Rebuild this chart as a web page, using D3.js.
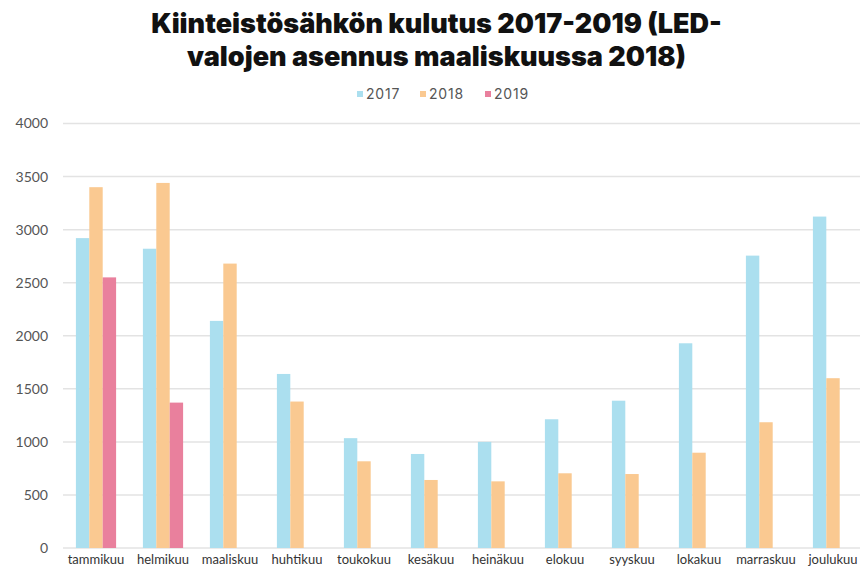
<!DOCTYPE html>
<html><head><meta charset="utf-8">
<script src="https://cdn.jsdelivr.net/npm/d3@7"></script>
<style>body{margin:0;background:#fff}</style>
</head><body>
<svg id="c" width="860" height="571"></svg>
<script>
const months = ["tammikuu","helmikuu","maaliskuu","huhtikuu","toukokuu","kesäkuu","heinäkuu","elokuu","syyskuu","lokakuu","marraskuu","joulukuu"];
const years = ["2017","2018","2019"];
const v2017 = [2920,2820,2140,1640,1035,886,1000,1213,1388,1929,2755,3123];
const v2018 = [3400,3440,2680,1380,817,641,628,704,697,898,1185,1600];
const v2019 = [2550,1370,null,null,null,null,null,null,null,null,null,null];
const yTicks = [0,500,1000,1500,2000,2500,3000,3500,4000];
const colors = ["#abdfef","#fac991","#e9809d"];
const series = [v2017,v2018,v2019];
const titleLines = ["Kiinteistösähkön kulutus 2017-2019 (LED-","valojen asennus maaliskuussa 2018)"];

const svg = d3.select("#c");
const x = d3.scaleBand().domain(months).range([62.5,866.5]).paddingInner(0.4).paddingOuter(0.2);
const xs = d3.scaleBand().domain(years).range([0,x.bandwidth()]);
const y = d3.scaleLinear().domain([0,4000]).range([548,123.5]);

// gridlines
svg.append("g").selectAll("line").data(yTicks).join("line")
  .attr("x1",63).attr("x2",860).attr("y1",d=>y(d)).attr("y2",d=>y(d))
  .attr("stroke","#e3e3e3").attr("stroke-width",1.5);

// y axis labels
const ya = svg.append("g").attr("transform","translate(48,0)")
  .call(d3.axisLeft(y).tickValues(yTicks).tickFormat(d3.format("d")).tickSize(0).tickPadding(0));
ya.select(".domain").remove();
ya.selectAll("text").attr("font-family","Lato, sans-serif").attr("font-size",14).attr("fill","#555");

// bars
series.forEach((s,i)=>{
  svg.append("g").selectAll("rect").data(months.map((m,j)=>({m,v:s[j]})).filter(d=>d.v!=null)).join("rect")
    .attr("x",d=>x(d.m)+xs(years[i])).attr("width",xs.bandwidth())
    .attr("y",d=>y(d.v)).attr("height",d=>y(0)-y(d.v)).attr("fill",colors[i]);
});

// x axis labels
const xa = svg.append("g").attr("transform","translate(0,553)")
  .call(d3.axisBottom(x).tickSize(0).tickPadding(0));
xa.select(".domain").remove();
xa.selectAll("text").attr("dy","0.85em").attr("font-family","Lato, sans-serif").attr("font-size",13).attr("fill","#333");

// title
svg.append("g").selectAll("text").data(titleLines).join("text")
  .attr("x",436.5).attr("y",(d,i)=>33+i*33).attr("text-anchor","middle")
  .attr("font-family","Inter, sans-serif").attr("font-weight",900).attr("font-size",27)
  .attr("fill","#111").text(d=>d);

// legend
const lx = [357,420,485];
const lg = svg.append("g").selectAll("g").data(years).join("g")
  .attr("transform",(d,i)=>`translate(${lx[i]},94)`);
lg.append("rect").attr("x",0).attr("y",-3).attr("width",6).attr("height",6).attr("fill",(d,i)=>colors[i]);
lg.append("text").attr("x",9).attr("y",0).attr("dy","0.35em").attr("font-family","Inter, sans-serif")
  .attr("font-size",14).attr("letter-spacing",0.8).attr("fill","#555").text(d=>d);
</script>
</body></html>
